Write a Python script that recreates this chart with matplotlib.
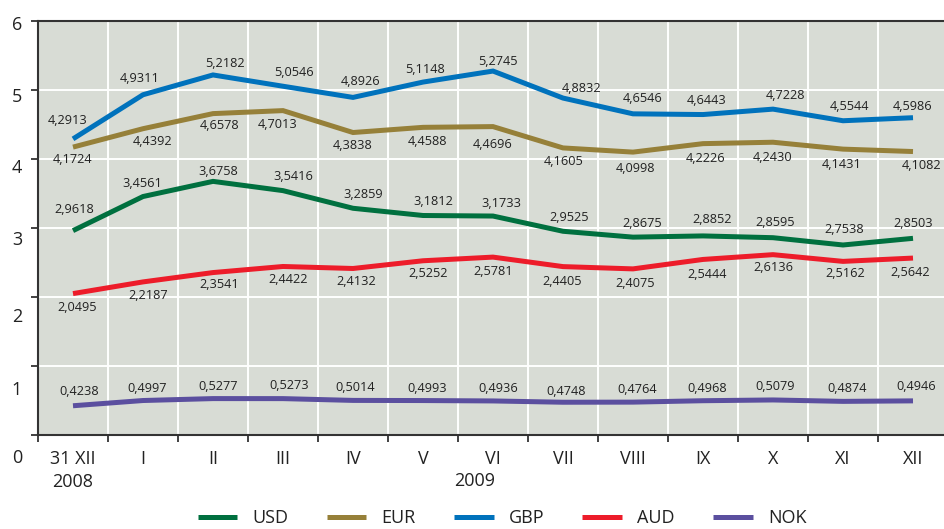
import matplotlib
matplotlib.use('Agg')
import matplotlib.pyplot as plt
import numpy as np

plt.rcParams['font.family'] = ['Open Sans', 'DejaVu Sans']

# ---------------- data ----------------
categories = ['31 XII\n2008', 'I', 'II', 'III', 'IV', 'V', 'VI', 'VII',
              'VIII', 'IX', 'X', 'XI', 'XII']
year_label = '2009'

usd = [2.9618, 3.4561, 3.6758, 3.5416, 3.2859, 3.1812, 3.1733, 2.9525,
       2.8675, 2.8852, 2.8595, 2.7538, 2.8503]
eur = [4.1724, 4.4392, 4.6578, 4.7013, 4.3838, 4.4588, 4.4696, 4.1605,
       4.0998, 4.2226, 4.2430, 4.1431, 4.1082]
gbp = [4.2913, 4.9311, 5.2182, 5.0546, 4.8926, 5.1148, 5.2745, 4.8832,
       4.6546, 4.6443, 4.7228, 4.5544, 4.5986]
aud = [2.0495, 2.2187, 2.3541, 2.4422, 2.4132, 2.5252, 2.5781, 2.4405,
       2.4075, 2.5444, 2.6136, 2.5162, 2.5642]
nok = [0.4238, 0.4997, 0.5277, 0.5273, 0.5014, 0.4993, 0.4936, 0.4748,
       0.4764, 0.4968, 0.5079, 0.4874, 0.4946]

y_ticks = [0, 1, 2, 3, 4, 5, 6]
y_tick_labels = ['0', '1', '2', '3', '4', '5', '6']

series_names = ['USD', 'EUR', 'GBP', 'AUD', 'NOK']
series_values = [usd, eur, gbp, aud, nok]

# ---------------- style / layout ----------------
colors = {'USD': '#00703f', 'EUR': '#968039', 'GBP': '#0072bc',
          'AUD': '#ed1c2a', 'NOK': '#5b4f9f'}

# value-label offsets in image pixels (dx right, dy down)
label_offsets = {
    'GBP': [(-5, -18), (-3, -16), (12, -11), (11, -14), (8, -16), (2, -13), (5, -10),
            (19, -10), (10, -15), (4, -14), (13, -14), (6, -14), (0, -11)],
    'EUR': [(0, 12), (10, 13), (7, 12), (-5, 14), (0, 13), (4, 14), (0, 18),
            (1, 14), (2, 16), (3, 15), (0, 15), (-1, 15), (9, 14)],
    'USD': [(1, -21), (-1, -13), (5, -10), (10, -14), (10, -14), (10, -14), (8, -13),
            (6, -14), (9, -14), (9, -16), (2, -15), (1, -15), (0, -15)],
    'AUD': [(4, 14), (5, 14), (6, 12), (5, 13), (3, 13), (5, 13), (0, 14),
            (-1, 15), (2, 15), (4, 15), (0, 13), (2, 12), (-3, 14)],
    'NOK': [(6, -14), (4, -12), (5, -12), (6, -13), (2, -13), (4, -12), (5, -12),
            (3, -11), (4, -13), (4, -12), (2, -13), (4, -13), (3, -14)],
}

W, H = 944, 529
fig = plt.figure(figsize=(W / 100, H / 100), dpi=100)
ax = fig.add_axes([38 / W, 94 / H, 910 / W, 414 / H])
ax.set_facecolor('#d8dcd5')

x = np.arange(len(categories))
ax.set_xlim(-0.5, len(categories) - 0.5)
ax.set_ylim(0, 6)

for name, vals in zip(series_names, series_values):
    ax.plot(x, vals, color=colors[name], lw=3.6, solid_joinstyle='miter',
            solid_capstyle='butt', label=name, zorder=3)
    for xi, v, (dx, dy) in zip(x, vals, label_offsets[name]):
        ax.annotate(f'{v:.4f}'.replace('.', ','), (xi, v),
                    xytext=(dx, -dy), textcoords='offset pixels',
                    ha='center', va='center', fontsize=9.2, color='#222222',
                    zorder=4)

# ticks and grid
ax.set_xticks(x)
ax.set_xticklabels(categories, fontsize=13, color='#222222')
ax.set_xticks(np.arange(-0.5, len(categories), 1), minor=True)
ax.tick_params(axis='x', which='major', length=0, pad=11)
ax.tick_params(axis='x', which='minor', length=5, width=1.3, color='#333333')
for lbl in ax.get_xticklabels():
    lbl.set_linespacing(1.35)

ax.set_yticks(y_ticks)
ax.set_yticklabels([''] * len(y_ticks))
ax.tick_params(axis='y', which='major', length=5, width=1.3, color='#333333')

ax.grid(axis='x', which='minor', color='white', lw=1.4)
ax.grid(axis='y', which='major', color='white', lw=1.4)
ax.grid(axis='x', which='major', visible=False)
ax.set_axisbelow(True)

for side in ['left', 'top', 'bottom']:
    ax.spines[side].set_color('#333333')
    ax.spines[side].set_linewidth(1.5)
ax.spines['right'].set_visible(False)

# y tick labels (drawn as text, placed like the reference)
y_label_px = [458, 390, 317, 240, 168, 97, 25]
for lab, ypx in zip(y_tick_labels, y_label_px):
    fig.text(17 / W, (H - ypx) / H, lab, ha='center', va='center',
             fontsize=13, color='#222222')

fig.text(475 / W, (H - 481) / H, year_label, ha='center', va='center',
         fontsize=13, color='#222222')

handles, labels = ax.get_legend_handles_labels()
leg = fig.legend(handles, labels, loc='center', bbox_to_anchor=(502 / W, (H - 518) / H),
                 ncol=5, frameon=False, fontsize=13, handlelength=2.2,
                 handletextpad=0.85, columnspacing=2.1, borderpad=0.1)
for t in leg.get_texts():
    t.set_color('#222222')

fig.savefig('out.png', dpi=100)
